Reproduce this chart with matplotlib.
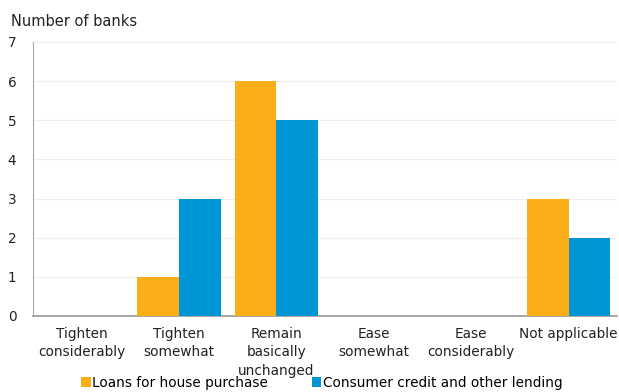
import matplotlib.pyplot as plt
import numpy as np

categories = ["Tighten\nconsiderably", "Tighten\nsomewhat", "Remain\nbasically\nunchanged",
              "Ease\nsomewhat", "Ease\nconsiderably", "Not applicable"]
house_loans = [0, 1, 6, 0, 0, 3]
consumer_credit = [0, 3, 5, 0, 0, 2]

orange = "#FBAE17"
blue = "#0096D6"

plt.rcParams['font.family'] = ['DejaVu Sans']

fig = plt.figure(figsize=(6.19, 3.92), dpi=100)
ax = fig.add_axes([0.0533, 0.194, 0.944, 0.699])

x = np.arange(len(categories))
w = 0.427
ax.bar(x - w/2, house_loans, w, color=orange, label="Loans for house purchase", zorder=3)
ax.bar(x + w/2, consumer_credit, w, color=blue, label="Consumer credit and other lending", zorder=3)

ax.set_xlim(-0.5, len(categories) - 0.5)
ax.set_ylim(0, 7)
ax.set_yticks(range(8))
ax.set_xticks(x)
ax.set_xticklabels(categories, fontsize=9.8, color="#222222", linespacing=1.4)
ax.tick_params(axis='y', labelsize=9.8, colors="#222222", length=0, pad=12)
ax.tick_params(axis='x', length=0, pad=8)
ax.grid(axis='y', color="#EEEEEE", linewidth=0.8, zorder=0)

for side in ['top', 'right']:
    ax.spines[side].set_visible(False)
ax.spines['left'].set_color("#AAAAAA")
ax.spines['bottom'].set_color("#999999")
ax.spines['bottom'].set_linewidth(1.2)

fig.text(0.018, 0.945, "Number of banks", fontsize=10.5, color="#222222", va='center')

fig.legend(loc='lower center', bbox_to_anchor=(0.52, -0.025), ncol=2, frameon=False,
           fontsize=9.8, handlelength=0.7, handleheight=0.7, handletextpad=0.1,
           columnspacing=3.2)

fig.savefig("out.png", dpi=100)
